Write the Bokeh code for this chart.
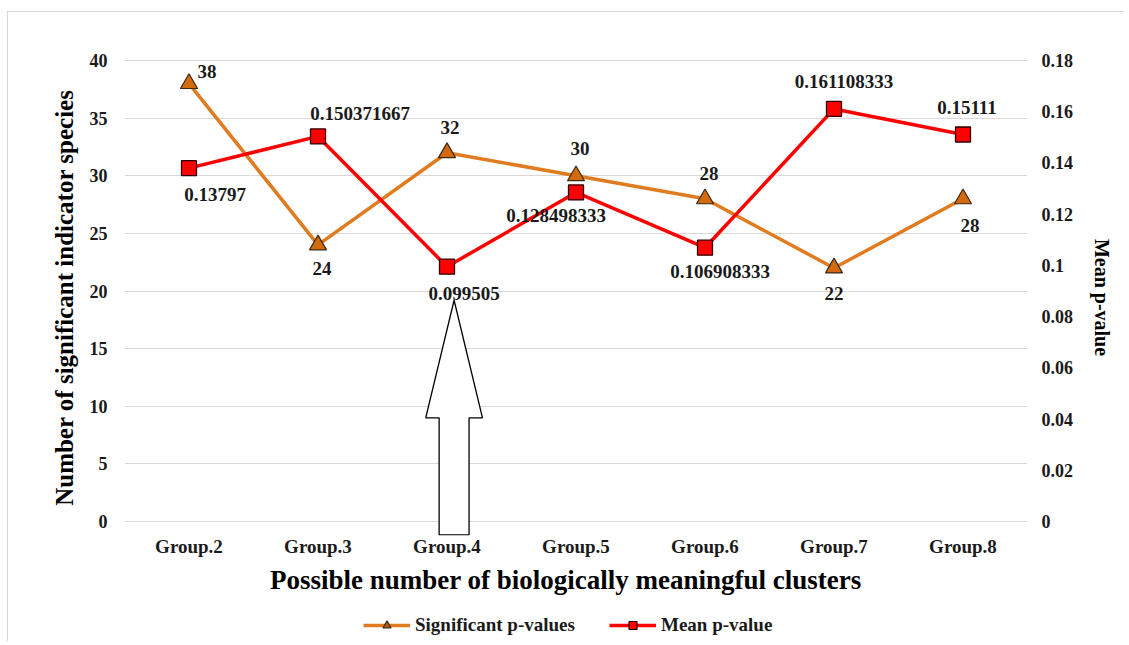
from bokeh.plotting import figure
from bokeh.layouts import column
from bokeh.models import (Range1d, LinearAxis, FixedTicker, ColumnDataSource, LabelSet,
                          Legend, LegendItem)
from bokeh.embed import file_html
from bokeh.resources import INLINE

# ---- data ----
categories = ["Group.2", "Group.3", "Group.4", "Group.5", "Group.6", "Group.7", "Group.8"]
significant = [38, 24, 32, 30, 28, 22, 28]
mean_p = [0.13797, 0.150371667, 0.099505, 0.128498333, 0.106908333, 0.161108333, 0.15111]
left_ticks = [0, 5, 10, 15, 20, 25, 30, 35, 40]
right_ticks = [0, 0.02, 0.04, 0.06, 0.08, 0.1, 0.12, 0.14, 0.16, 0.18]
right_tick_labels = ["0", "0.02", "0.04", "0.06", "0.08", "0.1", "0.12", "0.14", "0.16", "0.18"]
series_names = ["Significant p-values", "Mean p-value"]
highlight = "Group.4"

# ---- label placement (pixels) ----
sig_dx = [18, 4, 3, 4, 4, 0, 7]
sig_dy = [12, -24, 25, 27, 25, -26, -27]
mean_dx = [26, 42, 17, -20, 15, 10, 4]
mean_dy = [-26, 23, -27, -23, -24, 27, 27]

FONT = "Liberation Serif"
TXT = "#1a1a1a"
ORANGE = "#E07B20"
RED = "#FF0000"
TRI_FILL = "#D46A0E"

xs = list(range(1, len(categories) + 1))
y0, y1 = -1.215, 40.09
scale = 0.18 / 40

W = 1117
p = figure(width=W, height=588, output_backend="svg", toolbar_location=None,
           x_range=Range1d(0.5, len(categories) + 0.5), y_range=Range1d(y0, y1),
           min_border_left=116, min_border_right=98, min_border_top=47, min_border_bottom=65)
p.outline_line_color = None
p.extra_y_ranges = {"mean": Range1d(y0 * scale, y1 * scale)}

# axes
p.xaxis.ticker = FixedTicker(ticks=xs)
p.xaxis.major_label_overrides = {i: c for i, c in zip(xs, categories)}
p.xaxis.axis_label = "Possible number  of biologically  meaningful  clusters"
p.yaxis.ticker = FixedTicker(ticks=left_ticks)
p.yaxis.axis_label = "Number of significant indicator species"

ra = LinearAxis(y_range_name="mean", ticker=FixedTicker(ticks=right_ticks),
                axis_label="Mean p-value")
ra.major_label_overrides = {t: l for t, l in zip(right_ticks, right_tick_labels)}
p.add_layout(ra, "right")

for ax in [p.xaxis[0], p.yaxis[0], ra]:
    ax.axis_line_color = None
    ax.major_tick_line_color = None
    ax.minor_tick_line_color = None
    ax.major_label_text_font = FONT
    ax.major_label_text_font_style = "bold"
    ax.major_label_text_font_size = "18px"
    ax.major_label_text_color = TXT
    ax.axis_label_text_font = FONT
    ax.axis_label_text_font_style = "bold"
    ax.axis_label_text_color = "#000000"
p.xaxis.major_label_text_font_size = "19px"
p.xaxis.axis_label_text_font_size = "27px"
p.yaxis.axis_label_text_font_size = "25px"
ra.axis_label_text_font_size = "20px"
p.xaxis.major_label_standoff = -6
p.xaxis.axis_label_standoff = 5
p.yaxis.major_label_standoff = 11
p.yaxis.axis_label_standoff = 9
ra.major_label_standoff = 8
ra.axis_label_standoff = 15

p.xgrid.grid_line_color = None
p.ygrid.grid_line_color = "#d9d9d9"
p.ygrid.grid_line_width = 1.2

# highlight arrow under Group.4
cx = categories.index(highlight) + 1 + 0.055
ax_ = [cx - 0.116, cx - 0.116, cx - 0.22, cx, cx + 0.22, cx + 0.116, cx + 0.116]
ay_ = [y0 + 0.05, 9.0, 9.0, 19.2, 9.0, 9.0, y0 + 0.05]
p.patch(ax_, ay_, fill_color="white", line_color="black", line_width=1.3)

src = ColumnDataSource(dict(x=xs, sig=significant, mean=mean_p,
                            sig_t=[str(v) for v in significant],
                            mean_t=[str(v) for v in mean_p],
                            sdx=sig_dx, sdy=sig_dy, mdx=mean_dx, mdy=mean_dy))

p.line("x", "sig", source=src, line_color=ORANGE, line_width=3.5)
p.scatter("x", "sig", source=src, marker="triangle", size=17,
          fill_color=TRI_FILL, line_color="#3a2a10", line_width=1.2)
p.line("x", "mean", source=src, y_range_name="mean", line_color=RED, line_width=3.5)
p.scatter("x", "mean", source=src, y_range_name="mean", marker="square", size=15,
          fill_color=RED, line_color="#2a0000", line_width=1.3)

for col, yname, dx, dy in [("sig_t", None, "sdx", "sdy"), ("mean_t", "mean", "mdx", "mdy")]:
    kw = dict(source=src, x="x", y="sig" if yname is None else "mean", text=col,
              x_offset=dict(field=dx), y_offset=dict(field=dy),
              text_align="center", text_baseline="middle",
              text_font=FONT, text_font_style="bold", text_font_size="19px",
              text_color=TXT)
    if yname:
        kw["y_range_name"] = yname
    p.add_layout(LabelSet(**kw))

# ---- legend strip (separate figure so it is not clipped) ----
lg = figure(width=W, height=42, output_backend="svg", toolbar_location=None,
            x_range=Range1d(0, 1), y_range=Range1d(0, 1),
            min_border_left=0, min_border_right=0, min_border_top=0, min_border_bottom=0)
lg.axis.visible = False
lg.grid.visible = False
lg.outline_line_color = None
off = dict(x=[-10, -11], y=[-10, -11])   # proxy glyphs kept outside the strip's range
r1 = lg.line(x="x", y="y", source=ColumnDataSource(off), line_color=ORANGE, line_width=3.5)
s1 = lg.scatter(x="x", y="y", source=ColumnDataSource(off), marker="triangle", size=10,
                fill_color="#B85A08", line_color="#3a2a10", line_width=1.2)
r2 = lg.line(x="x", y="y", source=ColumnDataSource(off), line_color=RED, line_width=3.5)
s2 = lg.scatter(x="x", y="y", source=ColumnDataSource(off), marker="square", size=11,
                fill_color=RED, line_color="#2a0000", line_width=1.2)
legend = Legend(items=[LegendItem(label=series_names[0], renderers=[r1, s1]),
                       LegendItem(label=series_names[1], renderers=[r2, s2])],
                orientation="horizontal", location=(239, 6),
                label_text_font=FONT, label_text_font_style="bold",
                label_text_font_size="19px", label_text_color=TXT,
                glyph_width=47, spacing=34, border_line_color=None,
                background_fill_alpha=0, margin=0, padding=4, label_standoff=5)
lg.add_layout(legend, "center")

layout = column(p, lg, spacing=0,
                styles={"margin-left": "8px", "margin-top": "12px",
                        "box-shadow": "-1px -1px 0 0 #d9d9d9"})

open("out.html", "w").write(file_html(layout, INLINE))
